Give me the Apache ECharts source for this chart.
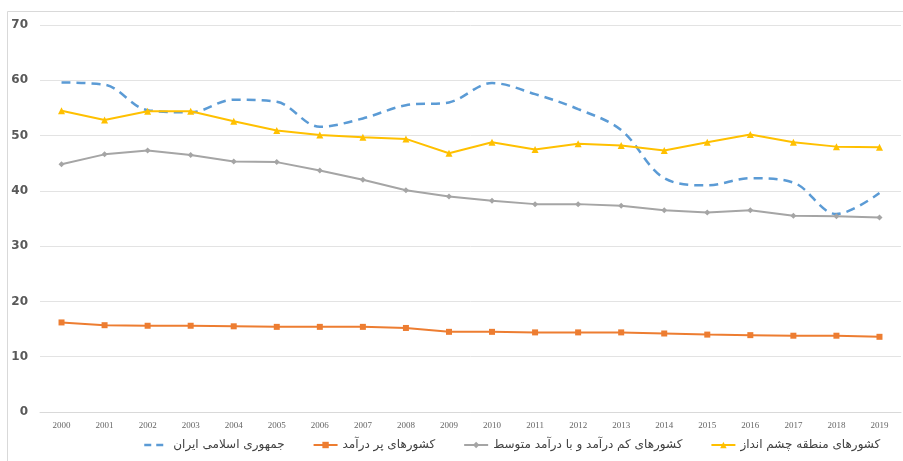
<!DOCTYPE html>
<html>
<head>
<meta charset="utf-8">
<script src="https://cdn.jsdelivr.net/npm/echarts@6/dist/echarts.min.js"></script>
<style>
  html, body { margin: 0; padding: 0; background: #ffffff; }
  #chart { width: 903px; height: 461px; }
</style>
</head>
<body>
<div id="chart"></div>
<script>
// Years on the horizontal axis
var years = ['2000','2001','2002','2003','2004','2005','2006','2007','2008','2009',
             '2010','2011','2012','2013','2014','2015','2016','2017','2018','2019'];

// Series names (legend order)
var nameIran   = 'جمهوری اسلامی ایران';
var nameHigh   = 'کشورهای پر درآمد';
var nameLowMid = 'کشورهای کم درآمد و با درآمد متوسط';
var nameRegion = 'کشورهای منطقه چشم انداز';

// Series values
var iranValues   = [59.6, 59.2, 54.6, 54.2, 56.5, 56.1, 51.6, 53.1, 55.5, 56.0,
                    59.5, 57.5, 54.8, 51.0, 42.3, 41.0, 42.3, 41.5, 35.8, 39.6];
var highValues   = [16.2, 15.7, 15.6, 15.6, 15.5, 15.4, 15.4, 15.4, 15.2, 14.5,
                    14.5, 14.4, 14.4, 14.4, 14.2, 14.0, 13.9, 13.8, 13.8, 13.6];
var lowMidValues = [44.8, 46.6, 47.3, 46.5, 45.3, 45.2, 43.7, 42.0, 40.1, 39.0,
                    38.2, 37.6, 37.6, 37.3, 36.5, 36.1, 36.5, 35.5, 35.4, 35.2];
var regionValues = [54.5, 52.8, 54.4, 54.4, 52.6, 50.9, 50.1, 49.7, 49.4, 46.8,
                    48.8, 47.5, 48.5, 48.2, 47.3, 48.8, 50.2, 48.8, 48.0, 47.9];

// Value axis range
var yMin = 0, yMax = 70, yStep = 10;

var chart = echarts.init(document.getElementById('chart'));

chart.setOption({
  backgroundColor: '#ffffff',
  animation: false,
  graphic: [{
    type: 'rect',
    shape: { x: 7.5, y: 11.5, width: 920, height: 480 },
    style: { fill: 'none', stroke: '#d9d9d9', lineWidth: 1 },
    silent: true
  }],
  grid: { left: 40, right: 2, top: 25, bottom: 49 },
  legend: {
    bottom: 5,
    left: 138,
    width: 880,
    itemWidth: 24,
    itemHeight: 8,
    itemGap: 28,
    textStyle: { fontFamily: 'DejaVu Sans', fontSize: 12, fontWeight: 'normal', color: '#404040' },
    data: [
      { name: nameIran, itemStyle: { opacity: 0 }, lineStyle: { type: [7, 5], width: 2.5 } },
      { name: nameHigh },
      { name: nameLowMid },
      { name: nameRegion }
    ]
  },
  xAxis: {
    type: 'category',
    data: years,
    boundaryGap: true,
    axisLine: { show: true, lineStyle: { color: '#d9d9d9', width: 1 } },
    axisTick: { show: false },
    axisLabel: { fontFamily: 'Liberation Serif', fontSize: 9, color: '#666666', margin: 9 }
  },
  yAxis: {
    type: 'value',
    min: yMin,
    max: yMax,
    interval: yStep,
    axisLine: { show: false },
    axisTick: { show: false },
    axisLabel: { fontFamily: 'DejaVu Sans', fontSize: 12, fontWeight: 'bold', color: '#595959', margin: 12 },
    splitLine: { lineStyle: { color: '#e3e3e3', width: 1 } }
  },
  series: [
    {
      name: nameIran,
      type: 'line',
      data: iranValues,
      smooth: 0.35,
      symbol: 'none',
      lineStyle: { color: '#5B9BD5', width: 2.5, type: [9, 6] },
      itemStyle: { color: '#5B9BD5' }
    },
    {
      name: nameHigh,
      type: 'line',
      data: highValues,
      symbol: 'rect',
      symbolSize: 6,
      lineStyle: { color: '#ED7D31', width: 2 },
      itemStyle: { color: '#ED7D31' }
    },
    {
      name: nameLowMid,
      type: 'line',
      data: lowMidValues,
      symbol: 'diamond',
      symbolSize: 6,
      lineStyle: { color: '#A5A5A5', width: 2 },
      itemStyle: { color: '#A5A5A5' }
    },
    {
      name: nameRegion,
      type: 'line',
      data: regionValues,
      symbol: 'triangle',
      symbolSize: 7,
      lineStyle: { color: '#FFC000', width: 2 },
      itemStyle: { color: '#FFC000' }
    }
  ]
});
</script>
</body>
</html>
